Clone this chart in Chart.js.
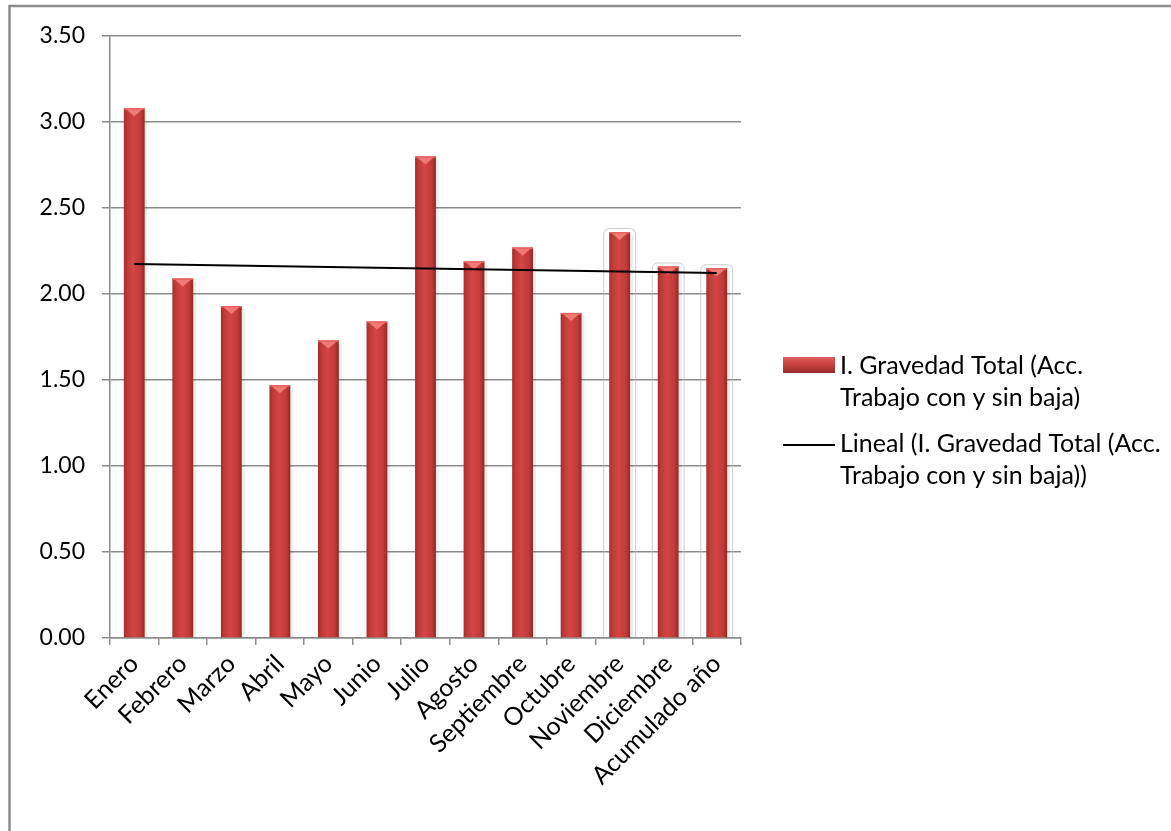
<!DOCTYPE html>
<html>
<head>
<meta charset="utf-8">
<script src="https://cdn.jsdelivr.net/npm/chart.js@4/dist/chart.umd.min.js"></script>
<style>
  html, body { margin: 0; padding: 0; background: #ffffff; }
  #wrap { position: relative; width: 1171px; height: 831px; }
</style>
</head>
<body>
<div id="wrap"><canvas id="grafico" width="1171" height="831"></canvas></div>
<script>
// Datos del gráfico
var meses = ['Enero', 'Febrero', 'Marzo', 'Abril', 'Mayo', 'Junio', 'Julio', 'Agosto',
             'Septiembre', 'Octubre', 'Noviembre', 'Diciembre', 'Acumulado año'];
var gravedad = [3.08, 2.09, 1.93, 1.47, 1.73, 1.84, 2.80, 2.19, 2.27, 1.89, 2.36, 2.16, 2.15];
var tendencia = [2.175, 2.122];          // línea de tendencia: primer y último punto
var yTicks = [0, 0.5, 1, 1.5, 2, 2.5, 3, 3.5];
var nombreSerie = ['I. Gravedad Total (Acc.', 'Trabajo con y sin baja)'];
var nombreTendencia = ['Lineal (I. Gravedad Total (Acc.', 'Trabajo con y sin baja))'];

var fuente = 'Lato, "Open Sans", sans-serif';
var gris = '#8c8c8c';

// serie de tendencia: solo extremos, el resto se une con spanGaps
var datosTendencia = meses.map(function(m, i) {
    if (i === 0) return tendencia[0];
    if (i === meses.length - 1) return tendencia[1];
    return null;
});

// marco exterior (solo se ven el borde superior e izquierdo)
var marco = {
    id: 'marco',
    beforeDraw: function(chart) {
        var ctx = chart.ctx;
        ctx.save();
        ctx.strokeStyle = gris;
        ctx.lineWidth = 2.5;
        ctx.beginPath();
        ctx.moveTo(9.5, 840);
        ctx.lineTo(9.5, 6);
        ctx.lineTo(1180, 6);
        ctx.stroke();
        ctx.restore();
    }
};

// relleno tipo bisel de las barras (dataset 1 = barras)
var bisel = {
    id: 'bisel',
    beforeDatasetsDraw: function(chart) {
        var ctx = chart.ctx;
        var meta = chart.getDatasetMeta(1);
        ctx.save();
        meta.data.forEach(function(bar, i) {
            var p = bar.getProps(['x', 'y', 'base', 'width'], true);
            var x0 = p.x - p.width / 2, x1 = p.x + p.width / 2;
            var top = p.y, base = p.base;
            // contorno claro en las últimas barras
            if (i >= 10) {
                ctx.strokeStyle = 'rgba(185,185,185,0.7)';
                ctx.lineWidth = 1;
                ctx.beginPath();
                var ox0 = x0 - 5.5, ox1 = x1 + 5.5, oy = top - 3.5, r = 6;
                ctx.moveTo(ox0, base);
                ctx.lineTo(ox0, oy + r);
                ctx.quadraticCurveTo(ox0, oy, ox0 + r, oy);
                ctx.lineTo(ox1 - r, oy);
                ctx.quadraticCurveTo(ox1, oy, ox1, oy + r);
                ctx.lineTo(ox1, base);
                ctx.stroke();
            }
            // sombra suave a la derecha
            ctx.fillStyle = 'rgba(0,0,0,0.07)';
            ctx.fillRect(x1, top + 3, 3, base - top - 3);
            var g = ctx.createLinearGradient(x0, 0, x1, 0);
            g.addColorStop(0, '#a02e2c');
            g.addColorStop(0.15, '#bd3a38');
            g.addColorStop(0.45, '#d44644');
            g.addColorStop(0.8, '#c03b39');
            g.addColorStop(1, '#932826');
            ctx.fillStyle = g;
            ctx.fillRect(x0, top, x1 - x0, base - top);
            // triángulo superior
            var h = Math.min(8, (base - top) / 2);
            ctx.fillStyle = '#f07a76';
            ctx.beginPath();
            ctx.moveTo(x0 + 1, top);
            ctx.lineTo(x1 - 1, top);
            ctx.lineTo(p.x, top + h);
            ctx.closePath();
            ctx.fill();
            ctx.fillStyle = '#e86460';
            ctx.fillRect(x0, top, x1 - x0, 1.5);
        });
        ctx.restore();
    }
};

// leyenda a la derecha, con dos líneas por entrada
var leyenda = {
    id: 'leyenda',
    afterDraw: function(chart) {
        var ctx = chart.ctx;
        ctx.save();
        ctx.font = '25px ' + fuente;
        ctx.fillStyle = '#000000';
        ctx.textBaseline = 'middle';
        ctx.textAlign = 'left';
        var xs = 783, xt = 840;
        // muestra de barra
        var g = ctx.createLinearGradient(0, 357, 0, 373);
        g.addColorStop(0, '#e35f5b');
        g.addColorStop(0.5, '#c63f3d');
        g.addColorStop(1, '#9a2b29');
        ctx.fillStyle = g;
        ctx.fillRect(xs, 357, 52, 16);
        ctx.fillStyle = '#000000';
        ctx.fillText(nombreSerie[0], xt, 366);
        ctx.fillText(nombreSerie[1], xt, 398);
        // muestra de línea
        ctx.strokeStyle = '#000000';
        ctx.lineWidth = 2;
        ctx.beginPath();
        ctx.moveTo(xs, 445);
        ctx.lineTo(xs + 52, 445);
        ctx.stroke();
        ctx.fillText(nombreTendencia[0], xt, 444);
        ctx.fillText(nombreTendencia[1], xt, 476);
        ctx.restore();
    }
};

window.onload = function() {
    new Chart(document.getElementById('grafico'), {
        data: {
            labels: meses,
            datasets: [{
                type: 'line',
                data: datosTendencia,
                spanGaps: true,
                borderColor: '#000000',
                borderWidth: 2,
                pointRadius: 0,
                fill: false,
                order: 0
            }, {
                type: 'bar',
                data: gravedad,
                backgroundColor: 'rgba(0,0,0,0)',
                barPercentage: 0.43,
                categoryPercentage: 1.0,
                order: 1
            }]
        },
        options: {
            responsive: false,
            animation: false,
            layout: { padding: { left: 0, right: 430, top: 36, bottom: 0 } },
            plugins: {
                legend: { display: false },
                tooltip: { enabled: false }
            },
            scales: {
                x: {
                    offset: true,
                    grid: { display: true, drawOnChartArea: false, drawTicks: true, tickLength: 7,
                            color: gris, lineWidth: 1.5, offset: true },
                    border: { display: true, color: gris, width: 1.5 },
                    ticks: {
                        autoSkip: false,
                        minRotation: 45,
                        maxRotation: 45,
                        padding: 4,
                        color: '#000000',
                        font: { family: fuente, size: 25 }
                    },
                    afterFit: function(scale) { scale.height = 193; }
                },
                y: {
                    min: 0,
                    max: 3.5,
                    afterBuildTicks: function(scale) {
                        scale.ticks = yTicks.map(function(v) { return { value: v }; });
                    },
                    grid: { color: gris, lineWidth: 1.5, tickLength: 8 },
                    border: { display: true, color: gris, width: 1.5 },
                    ticks: {
                        padding: 17,
                        color: '#000000',
                        font: { family: fuente, size: 23 },
                        callback: function(v) { return Number(v).toFixed(2); }
                    },
                    afterFit: function(scale) { scale.width = 110; }
                }
            }
        },
        plugins: [marco, bisel, leyenda]
    });
};
</script>
</body>
</html>
